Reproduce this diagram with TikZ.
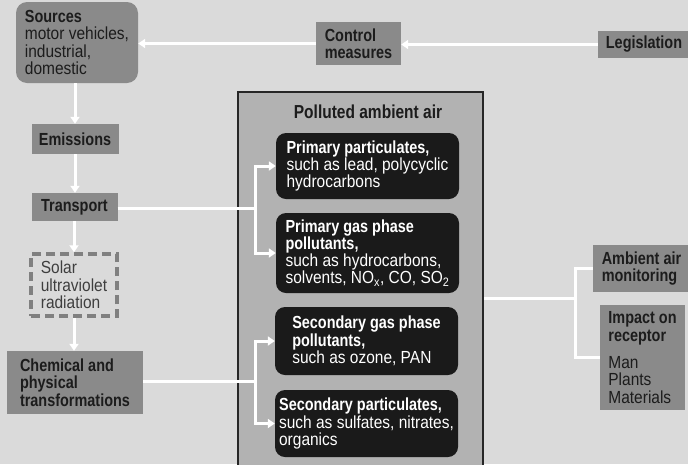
\documentclass[tikz,border=0pt]{standalone}
\usepackage{fontspec}
\setmainfont{Liberation Sans}[FakeStretch=0.885, BoldFeatures={FakeStretch=0.825}]
\usetikzlibrary{arrows.meta}
\definecolor{bgc}{RGB}{218,218,218}
\definecolor{gboxc}{RGB}{138,138,138}
\definecolor{airc}{RGB}{178,178,178}
\definecolor{blackc}{RGB}{26,26,26}
\definecolor{darktxt}{RGB}{28,28,28}
\definecolor{dashc}{RGB}{128,128,128}
\tikzset{
  every node/.style={font=\fontsize{17.5}{17.3}\selectfont, inner sep=0pt},
  bf/.style={font=\fontsize{17.5}{17.3}\selectfont\bfseries},
  gbox/.style={fill=gboxc, text=darktxt, align=left},
  bbox/.style={fill=blackc, text=white, rounded corners=10pt, align=left},
  dbox/.style={draw=dashc, line width=3.5pt, dash pattern=on 9pt off 5pt, text=darktxt!85!white, align=left},
  conn/.style={draw=white, line width=3pt},
  arr/.style={conn, -{Triangle[length=7pt,width=9pt]}}
}
\begin{document}
\begin{tikzpicture}[x=1pt,y=-1pt]
\fill[bgc] (0,0) rectangle (688,464);
\useasboundingbox (0,0) rectangle (688,464);

% central box
\node[draw=black!85, line width=2pt, fill=airc, minimum width=245pt, minimum height=390pt, anchor=north west] (air) at (237,91) {};
\node[font=\fontsize{18.8}{17.3}\selectfont\bfseries, text=darktxt] (title) at (368,112) {Polluted ambient air};

% left column
\node[gbox, rounded corners=11pt, minimum width=122pt, minimum height=81pt] (src) at (77,42.5)
  {\textbf{Sources}\\motor vehicles,\\industrial,\\domestic};
\node[gbox, bf, minimum width=87pt, minimum height=30pt] (emi) at (75,139) {Emissions};
\node[gbox, bf, minimum width=86pt, minimum height=28pt] (tra) at (74.5,207) {Transport};
\node[dbox, minimum width=86pt, minimum height=62pt] (sol) at (74,285) {Solar\\ultraviolet\\radiation};
\node[gbox, bf, minimum width=136pt, minimum height=63pt] (chem) at (75,382.5)
  {Chemical and\\physical\\transformations};

% top row
\node[gbox, bf, minimum width=85pt, minimum height=43pt] (ctl) at (358.5,43.5) {Control\\measures};
\node[gbox, bf, minimum width=92pt, minimum height=27pt] (leg) at (644,44.5) {Legislation};

% black boxes
\node[bbox, minimum width=183pt, minimum height=66pt] (pp) at (367.5,166)
  {\textbf{Primary particulates,}\\such as lead, polycyclic\\hydrocarbons};
\node[bbox, minimum width=183pt, minimum height=80pt] (pg) at (367.5,253)
  {\textbf{Primary gas phase}\\\textbf{pollutants,}\\such as hydrocarbons,\\solvents, NO\textsubscript{x}, CO, SO\textsubscript{2}};
\node[bbox, minimum width=183pt, minimum height=68pt] (sg) at (366.5,341)
  {\textbf{Secondary gas phase}\\\textbf{pollutants,}\\such as ozone, PAN};
\node[bbox, minimum width=183pt, minimum height=67pt] (sp) at (366.5,423.5)
  {\textbf{Secondary particulates,}\\such as sulfates, nitrates,\\organics};

% right column
\node[gbox, bf, minimum width=97pt, minimum height=47pt] (mon) at (641.5,268.5)
  {Ambient air\\monitoring};
\node[gbox, minimum width=85pt, minimum height=105pt] (imp) at (642.5,357.5)
  {\textbf{Impact on}\\\textbf{receptor}\\[10pt]Man\\Plants\\Materials};

% connectors
\draw[arr] (leg.west) -- (leg.west -| ctl.east);
\draw[arr] (ctl.west) -- (ctl.west -| src.east);
\draw[arr] (src.south -| emi.north) -- (emi.north);
\draw[arr] (emi.south) -- (emi.south |- tra.north);
\draw[arr] (tra.south -| sol.north) -- (sol.north);
\draw[arr] (sol.south) -- (sol.south |- chem.north);

\coordinate (b1) at (255,208);
\draw[conn] (tra.east |- b1) -- (b1);
\draw[arr] (b1) |- (pp.west);
\draw[arr] (b1) |- (pg.west);

\coordinate (b2) at (255,381);
\draw[conn] (chem.east |- b2) -- (b2);
\draw[arr] (b2) |- (sg.west);
\draw[arr] (b2) |- (sp.west);

\coordinate (b3) at (575,298);
\draw[conn] (air.east |- b3) -- (b3);
\draw[conn] (mon.west) -| (b3);
\draw[conn] (b3) |- (imp.west);
\end{tikzpicture}
\end{document}
